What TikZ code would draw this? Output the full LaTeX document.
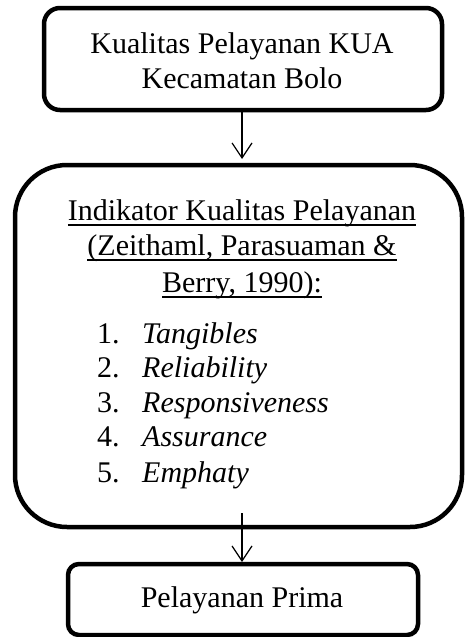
\documentclass[tikz,border=0pt]{standalone}
\usepackage{fontspec}
\setmainfont{Liberation Serif}
\usetikzlibrary{arrows.meta}
\newcommand\myul[1]{\setbox0\hbox{#1}\rlap{\rule[-5.5pt]{\wd0}{1.4pt}}\box0}
\tikzset{
  box/.style={draw=black, line width=4.5pt, fill=none, inner sep=0pt},
  txt/.style={inner sep=0pt, font=\fontsize{30pt}{35pt}\selectfont},
  arr/.style={line width=1.2pt, -{Straight Barb[length=15pt,width=20pt,line width=1.2pt]}}
}
\begin{document}
\begin{tikzpicture}[x=1pt,y=-1pt]
\useasboundingbox (0,0) rectangle (464,637);
% boxes
\node[box, rounded corners=16pt, minimum width=398pt, minimum height=102pt] (top) at (243,59) {};
\node[box, rounded corners=52pt, minimum width=447pt, minimum height=362pt] (mid) at (238.5,346) {};
\node[box, rounded corners=11pt, minimum width=350pt, minimum height=71pt] (bot) at (243,599.5) {};
% texts
\node[txt, anchor=base] (t1) at (242,53) {Kualitas Pelayanan KUA};
\node[txt, anchor=base] (t2) at (242,88) {Kecamatan Bolo};
\node[txt, anchor=base] (h1) at (242,220) {\myul{Indikator Kualitas Pelayanan}};
\node[txt, anchor=base] (h2) at (242,255) {\myul{(Zeithaml, Parasuaman \&}};
\node[txt, anchor=base] (h3) at (242,292) {\myul{Berry, 1990):}};
\node[txt, anchor=base west] (l1) at (97,343) {\makebox[45pt][l]{1.}\textit{Tangibles}};
\node[txt, anchor=base west] (l2) at (97,377) {\makebox[45pt][l]{2.}\textit{Reliability}};
\node[txt, anchor=base west] (l3) at (97,412) {\makebox[45pt][l]{3.}\textit{Responsiveness}};
\node[txt, anchor=base west] (l4) at (97,446) {\makebox[45pt][l]{4.}\textit{Assurance}};
\node[txt, anchor=base west] (l5) at (97,482) {\makebox[45pt][l]{5.}\textit{Emphaty}};
\node[txt, anchor=base] (b1) at (242,607) {Pelayanan Prima};
% arrows
\coordinate (a1s) at (242,112);
\coordinate (a1e) at (242,159);
\coordinate (a2s) at (242,513);
\coordinate (a2e) at (242,562);
\draw[arr] (a1s) -- (a1e);
\draw[arr] (a2s) -- (a2e);
\end{tikzpicture}
\end{document}
